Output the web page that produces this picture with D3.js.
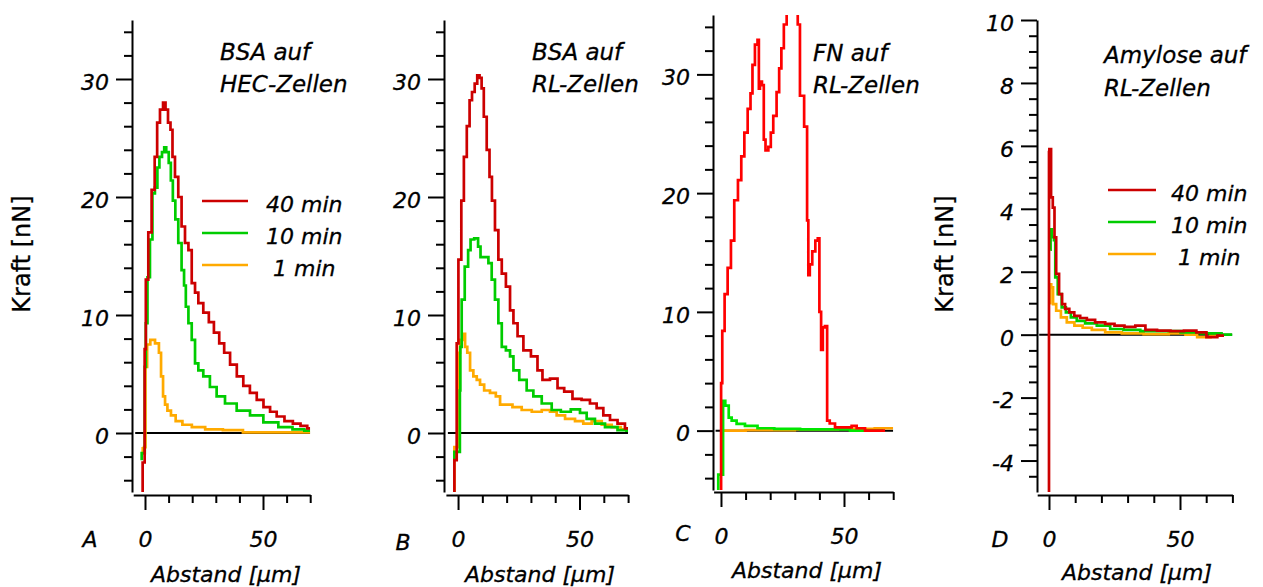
<!DOCTYPE html>
<html>
<head>
<meta charset="utf-8">
<script src="https://cdn.jsdelivr.net/npm/d3@7"></script>
<style>
  body { margin: 0; background: #fff; }
  svg { display: block; font-family: "DejaVu Sans", Verdana, sans-serif; }
</style>
</head>
<body>
<svg id="chart" width="1263" height="587"></svg>
<script>
// ---- data: force [nN] vs distance [µm] for three incubation times ----
const seriesNames = ["40 min", "10 min", "1 min"];
const panelLetters = ["A", "B", "C", "D"];
const panelTitles = [
  ["BSA auf", "HEC-Zellen"],
  ["BSA auf", "RL-Zellen"],
  ["FN auf", "RL-Zellen"],
  ["Amylose auf", "RL-Zellen"]
];
const forceTicks = [0, 10, 20, 30];
const forceTicksD = [-4, -2, 0, 2, 4, 6, 8, 10];
const distTicks = [0, 50];
const distLabel = "Abstand [µm]";
const forceLabel = "Kraft [nN]";

// A: BSA on HEC cells  [distance, force]
const bsaHec40 = [[-1.0,-5.0],[-1.0,-2.5],[-0.3,-2.5],[0,7.1],[0.7,13],[2.1,17],[3.5,20.6],[4.7,23.4],[5.6,26.3],[7.1,27.4],[8.2,28.0],[9.2,27.4],[10.3,26.3],[11.3,25.7],[12.0,23.4],[13.4,21.7],[14.8,20.0],[16.2,17.5],[17.7,16.1],[19.1,15.5],[20.5,12.7],[21.9,11.9],[23.3,11.0],[26.1,10.2],[28,9.4],[30.4,8.5],[32.5,7.6],[34.6,6.8],[37.5,5.8],[40.3,4.8],[43,4.0],[45.9,3.4],[48.8,2.8],[51.6,2.2],[54.4,1.8],[57.2,1.4],[61,1.0],[64.3,0.8],[67.5,0.6],[70,0.4]];
const bsaHec10 = [[-1.4,-2.3],[-1.4,-1.7],[-0.2,-1.7],[0,5.6],[0.7,9.3],[1.4,13.2],[2.8,16.4],[3.5,20.3],[4.9,20.8],[5.6,22.5],[6.6,23.4],[7.8,23.8],[8.5,24.2],[9.5,23.8],[10.6,22.9],[11.3,21.4],[12.3,19.7],[13.4,18.1],[14.8,16.1],[16.2,13.8],[16.9,12.5],[17.7,10.7],[19.1,9.3],[20.5,7.9],[21.9,5.9],[23.3,5.3],[26.1,4.8],[28.9,3.9],[31.8,3.1],[36.0,2.5],[41.7,1.9],[47.3,1.5],[53.0,0.9],[60,0.5],[65,0.3],[70,0.2]];
const bsaHec1 = [[-1.0,-1.7],[-0.9,-1.3],[0.1,-1.2],[0.3,5.6],[1.5,7.5],[3.0,7.9],[5.5,7.6],[6.3,6.8],[7.3,4.8],[8.0,3.1],[9.0,2.4],[10.0,1.9],[12.0,1.5],[14.0,1.0],[17.7,0.7],[22,0.5],[29,0.3],[37,0.25],[46,0.05],[70,0.05]];

// B: BSA on RL cells
const bsaRl40 = [[-1.5,-5.0],[-1.5,-2.3],[-0.6,-2.3],[-0.5,7.6],[0.8,14.7],[1.9,19.7],[2.9,23.4],[4.3,26.0],[5.2,28.2],[6.3,28.9],[7.4,29.6],[8.4,30.3],[9.3,30.1],[10.1,29.2],[11.1,26.8],[12.5,24.0],[13.4,21.7],[14.5,19.7],[15.9,17.2],[17.3,14.7],[18.7,13.5],[20.7,12.4],[22.1,10.4],[23.5,9.3],[25.5,8.2],[28.3,7.0],[31.7,6.5],[33.7,5.3],[35.8,4.5],[39.9,4.6],[42.0,3.8],[45.4,3.5],[48.8,2.9],[52.9,2.8],[55.7,2.5],[58.4,2.1],[61.2,1.5],[63.9,1.1],[67.4,0.8],[70,0.4]];
const bsaRl10 = [[-1.5,-2.3],[-1.5,-1.6],[0.7,-1.6],[0.8,3.6],[1.1,7.3],[1.9,11.3],[3.6,14.1],[4.7,15.5],[5.6,16.4],[7.7,16.5],[8.8,15.8],[9.7,14.9],[11.8,14.9],[13.2,14.4],[14.5,13.0],[15.9,11.3],[17.3,9.3],[18.7,7.3],[20.7,7.0],[22.1,6.5],[23.5,5.3],[26.9,4.5],[29.6,3.6],[32.4,3.1],[36.5,2.5],[40.6,1.95],[44.0,1.8],[48.8,2.0],[51.6,1.7],[54.3,1.2],[58.4,0.8],[62.6,0.5],[68.7,0.25],[70,0.2]];
const bsaRl1 = [[-1.5,-5.0],[-1.5,-1.2],[0.0,-1.2],[0.1,6.8],[1.5,7.9],[2.5,8.4],[3.3,7.3],[4.3,6.8],[5.6,5.3],[7.0,4.8],[8.4,4.5],[9.7,4.1],[11.8,3.6],[14.5,3.4],[16.6,3.1],[18.0,2.4],[20.7,2.4],[24.1,2.2],[28.3,1.95],[32.4,1.8],[36.5,1.95],[39.2,1.8],[42.0,1.5],[46.1,1.2],[50.2,1.0],[52.9,0.8],[57.1,1.0],[61.2,0.7],[65.3,0.5],[68.7,0.3],[70,0.3]];

// C: fibronectin on RL cells
const fnRl40 = [[0,-5.2],[0.1,4.0],[0.95,8.4],[2.0,11.5],[3.4,13.7],[4.7,16.0],[6.1,19.4],[7.7,21.1],[8.8,23.1],[10.2,25.1],[11.5,27.1],[12.5,28.4],[13.1,30.8],[14.5,32.5],[15.2,32.9],[15.6,28.8],[16.1,29.4],[17.2,29.1],[17.6,24.5],[18.6,23.6],[19.9,23.9],[20.6,25.1],[21.9,26.5],[23.3,28.5],[24.0,30.5],[25.1,32.2],[26.0,34.2],[27.4,35.2],[28.0,37],[30.1,37],[31.0,35.2],[31.4,34.2],[32.8,28.2],[34.8,25.6],[35.2,17.7],[35.8,13.1],[36.4,14.0],[37.8,15.1],[38.9,16.0],[39.8,16.2],[40.2,10.0],[41.2,6.8],[41.6,8.7],[42.9,8.8],[43.4,0.85],[45.0,0.6],[47.7,0.28],[52.4,0.28],[53.8,0.4],[56.5,0.2],[60.6,0.0],[66.7,0.0]];
const fnRl10 = [[-1.1,-5.1],[-1.1,-3.7],[0.8,-3.7],[0.9,2.5],[2.6,2.1],[3.7,1.1],[5.0,0.85],[7.7,0.57],[11.8,0.4],[17.9,0.2],[25.4,0.15],[38.9,0.1],[66,0.0]];
const fnRl1 = [[0,0.0],[20,0.05],[40,0.1],[55,0.15],[70,0.2]];

// D: amylose on RL cells
const amyRl40 = [[0,-5.0],[0,5.8],[0.3,5.9],[0.6,5.9],[1.0,4.36],[1.9,4.04],[2.3,3.09],[3.2,1.93],[4.5,1.29],[5.5,0.97],[6.8,0.82],[8.7,0.71],[10.6,0.6],[13.2,0.53],[15.7,0.47],[19.5,0.39],[23.4,0.34],[26.6,0.29],[31.0,0.25],[34.9,0.29],[38.7,0.15],[43.8,0.13],[48.9,0.11],[54.0,0.13],[58.5,0.07],[61.7,-0.08],[66.8,-0.03]];
const amyRl10 = [[0.5,2.7],[0.7,3.35],[1.5,3.1],[2.3,3.0],[2.5,1.82],[4.2,1.29],[5.5,0.87],[7.4,0.71],[9.3,0.55],[11.9,0.44],[15.7,0.36],[20.8,0.29],[25.9,0.18],[31.0,0.15],[38.7,0.11],[46.4,0.11],[54.0,0.07],[61.7,0.04],[70,0.0]];
const amyRl1 = [[0.4,1.0],[0.5,1.6],[1.2,1.5],[1.9,0.97],[3.6,0.76],[5.5,0.55],[8.1,0.39],[11.3,0.29],[14.4,0.22],[18.3,0.15],[24.6,0.07],[31.0,0.04],[41.2,0.02],[50.2,0.04],[54.0,0.0],[59.1,-0.08],[64.2,-0.03]];

// ---- layout of the four panels ----
const panels = [
  { series: [bsaHec40, bsaHec10, bsaHec1], colors: ["#cc0000", "#00cc00", "#ffaa00"],
    xDom: [-5, 70], xRange: [133.2, 310.2], yDom: [-5, 35], yRange: [492, 20],
    yAxisX: 132, xAxisY: 495, yMajor: forceTicks, yMinorStep: 2,
    title: [220, 60, 92], letter: [90, 547], xLabel: [226, 582],
    legend: { x1: 202, x2: 248, y: 201, tx: 266 }, yLabel: 22 },
  { series: [bsaRl40, bsaRl10, bsaRl1], colors: ["#cc0000", "#00cc00", "#ffaa00"],
    xDom: [-5, 70], xRange: [445.9, 628.1], yDom: [-5, 35], yRange: [492, 20],
    yAxisX: 444, xAxisY: 495, yMajor: forceTicks, yMinorStep: 2,
    title: [532, 60, 92], letter: [403, 550], xLabel: [540, 582] },
  { series: [fnRl40, fnRl10, fnRl1], colors: ["#ff0000", "#00e600", "#ffa200"],
    xDom: [-3, 70], xRange: [713.6, 893.2], yDom: [-5, 35], yRange: [490, 15],
    yAxisX: 713, xAxisY: 492, yMajor: forceTicks, yMinorStep: 2,
    title: [813, 61, 93], letter: [683, 541], xLabel: [807, 578] },
  { series: [amyRl40, amyRl10, amyRl1], colors: ["#cc0000", "#00cc00", "#ffaa00"],
    xDom: [-4.5, 70], xRange: [1037.2, 1232.4], yDom: [-5, 10], yRange: [492, 20],
    yAxisX: 1037, xAxisY: 495, yMajor: forceTicksD, yMinorStep: 0.5,
    title: [1104, 63, 96], letter: [1000, 547], xLabel: [1137, 580],
    legend: { x1: 1108, x2: 1156, y: 190, tx: 1171 }, yLabel: 945 }
];

const svg = d3.select("#chart");
// italic labels with a hairline outline for a slightly heavier stroke
const italic = sel => sel.attr("font-style", "italic").attr("fill", "#000")
  .attr("stroke", "#000").attr("stroke-width", 0.3);

panels.forEach((p, i) => {
  const g = svg.append("g");
  const x = d3.scaleLinear().domain(p.xDom).range(p.xRange);
  const y = d3.scaleLinear().domain(p.yDom).range(p.yRange);

  // y axis: minor ticks, then labelled major ticks
  const minor = d3.range(p.yDom[0] + (p.yMinorStep === 2 ? 1 : 0.5), p.yDom[1] + 1e-9, p.yMinorStep)
    .filter(v => !p.yMajor.some(m => Math.abs(m - v) < 1e-9));
  const yMinorAxis = d3.axisLeft(y).tickValues(minor).tickSize(8).tickSizeOuter(0).tickFormat("");
  const yMajorAxis = d3.axisLeft(y).tickValues(p.yMajor).tickSize(16).tickSizeOuter(0).tickPadding(7)
    .tickFormat(d3.format("d"));
  const gy1 = g.append("g").attr("transform", `translate(${p.yAxisX},0)`).call(yMinorAxis);
  const gy2 = g.append("g").attr("transform", `translate(${p.yAxisX},0)`).call(yMajorAxis);
  gy2.select(".domain").remove();
  [gy1, gy2].forEach(a => {
    a.selectAll("line").attr("stroke", "#000").attr("stroke-width", 2);
    a.select(".domain").attr("stroke", "#000").attr("stroke-width", 2);
  });
  gy2.selectAll("text").attr("font-size", 22).attr("dy", "0.47em")
    .attr("font-family", "DejaVu Sans").call(italic)
    .text(d => d < 0 ? "-" + Math.abs(d) : d);

  // x axis below the plot
  const xMinor = d3.range(10, 71, 10).filter(v => !distTicks.includes(v));
  const xMinorAxis = d3.axisBottom(x).tickValues(xMinor).tickSize(8).tickSizeOuter(0).tickFormat("");
  const xMajorAxis = d3.axisBottom(x).tickValues(distTicks).tickSize(15).tickSizeOuter(0).tickPadding(21);
  const gx1 = g.append("g").attr("transform", `translate(0,${p.xAxisY})`).call(xMinorAxis);
  const gx2 = g.append("g").attr("transform", `translate(0,${p.xAxisY})`).call(xMajorAxis);
  gx2.select(".domain").remove();
  [gx1, gx2].forEach(a => {
    a.selectAll("line").attr("stroke", "#000").attr("stroke-width", 2);
    a.select(".domain").attr("stroke", "#000").attr("stroke-width", 2);
  });
  gx2.selectAll("text").attr("font-size", 22).attr("font-family", "DejaVu Sans").call(italic);

  // clip region for the curves
  const clipId = "clip" + i;
  svg.append("clipPath").attr("id", clipId).append("rect")
    .attr("x", p.xRange[0]).attr("y", p.yRange[1])
    .attr("width", p.xRange[1] - p.xRange[0]).attr("height", p.yRange[0] - p.yRange[1]);

  const plot = g.append("g").attr("clip-path", `url(#${clipId})`);

  // zero baseline
  plot.append("line")
    .attr("x1", p.xRange[0] + 2).attr("x2", p.xRange[1])
    .attr("y1", y(0)).attr("y2", y(0))
    .attr("stroke", "#000").attr("stroke-width", 2);

  // stepped force traces: 1 min first, 40 min on top
  const line = d3.line().x(d => x(d[0])).y(d => y(d[1])).curve(d3.curveStep);
  [2, 1, 0].forEach(k => {
    plot.append("path").datum(p.series[k])
      .attr("d", line).attr("fill", "none")
      .attr("stroke", p.colors[k]).attr("stroke-width", 2.7)
      .attr("stroke-linejoin", "miter");
  });

  // title
  const t = g.append("text").attr("font-size", 23).call(italic);
  t.append("tspan").attr("x", p.title[0]).attr("y", p.title[1]).text(panelTitles[i][0]);
  t.append("tspan").attr("x", p.title[0]).attr("y", p.title[2]).text(panelTitles[i][1]);

  // panel letter and x label
  g.append("text").attr("x", p.letter[0]).attr("y", p.letter[1]).attr("text-anchor", "middle")
    .attr("font-size", 22).call(italic).text(panelLetters[i]);
  g.append("text").attr("x", p.xLabel[0]).attr("y", p.xLabel[1]).attr("text-anchor", "middle")
    .attr("font-size", 22).call(italic).text(distLabel);

  // y label
  if (p.yLabel !== undefined) {
    g.append("text")
      .attr("transform", `translate(${p.yLabel},254) rotate(-90)`)
      .attr("text-anchor", "middle").attr("dominant-baseline", "central")
      .attr("font-size", 24).attr("fill", "#000")
      .attr("stroke", "#000").attr("stroke-width", 0.3).text(forceLabel);
  }

  // legend
  if (p.legend) {
    seriesNames.forEach((name, k) => {
      const ly = p.legend.y + k * 32;
      g.append("line").attr("x1", p.legend.x1).attr("x2", p.legend.x2)
        .attr("y1", ly).attr("y2", ly)
        .attr("stroke", p.colors[k]).attr("stroke-width", 2.7);
      g.append("text").attr("x", p.legend.tx).attr("y", ly + 10.5)
        .attr("font-size", 22).attr("xml:space", "preserve").style("white-space", "pre")
        .call(italic).text(k === 2 ? " " + name : name);
    });
  }
});
</script>
</body>
</html>
